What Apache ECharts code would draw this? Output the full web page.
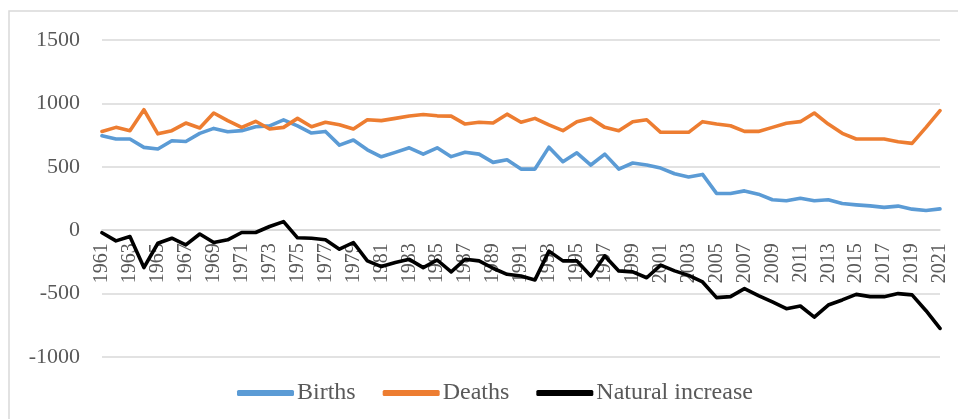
<!DOCTYPE html>
<html>
<head>
<meta charset="utf-8">
<script src="https://cdn.jsdelivr.net/npm/echarts@6/dist/echarts.min.js"></script>
<style>
  html, body { margin: 0; padding: 0; background: #ffffff; }
  #chart { width: 958px; height: 419px; }
</style>
</head>
<body>
<div id="chart"></div>
<script>
const years = [];
for (let y = 1961; y <= 2021; y++) years.push(String(y));

const births = [745, 719, 719, 653, 640, 706, 700, 764, 803, 777, 785, 816, 823, 870, 823, 766, 779, 671, 711, 634,
  579, 614, 650, 600, 650, 580, 615, 600, 535, 556, 482, 482, 655, 540, 610, 514, 600, 482, 530, 514,
  490, 445, 420, 440, 290, 290, 310, 284, 240, 232, 252, 232, 240, 210, 200, 192, 180, 190, 166, 155, 168];

const deaths = [779, 811, 785, 950, 760, 785, 845, 806, 924, 864, 811, 859, 798, 811, 882, 816, 851, 832, 798, 871,
  864, 882, 900, 912, 902, 900, 837, 851, 845, 915, 851, 882, 830, 785, 856, 882, 811, 785, 856, 871,
  772, 772, 772, 856, 837, 824, 779, 779, 811, 843, 856, 924, 837, 764, 719, 719, 719, 698, 685, 811, 943];

const natural = [-20, -84, -50, -295, -103, -63, -116, -30, -97, -76, -18, -18, 29, 68, -60, -63, -75, -150, -97, -242,
  -287, -255, -230, -295, -235, -329, -229, -242, -300, -348, -361, -392, -165, -242, -242, -361, -203, -321, -329, -375,
  -275, -321, -356, -408, -532, -524, -461, -516, -566, -619, -598, -685, -590, -550, -506, -524, -524, -500, -510, -635, -775];

const yTicks = { min: -1000, max: 1500, interval: 500 };
const seriesNames = ['Births', 'Deaths', 'Natural increase'];
const colors = ['#5B9BD5', '#ED7D31', '#000000'];

const FONT = '"Liberation Serif", "Times New Roman", serif';
const TXT = '#595959';

const GRID = { left: 102, right: 18, top: 40, bottom: 62 };
const plotH = 419 - GRID.top - GRID.bottom;
const zeroOffset = -plotH * (0 - yTicks.min) / (yTicks.max - yTicks.min);

const chart = echarts.init(document.getElementById('chart'), null, { renderer: 'canvas' });

function lineSeries(name, data, color) {
  return {
    name: name,
    type: 'line',
    data: data,
    symbol: 'none',
    smooth: false,
    color: color,
    z: 3,
    lineStyle: { color: color, width: 3.6, cap: 'round', join: 'round' },
    emphasis: { disabled: true },
    animation: false
  };
}

chart.setOption({
  animation: false,
  backgroundColor: '#ffffff',
  graphic: [{
    type: 'rect',
    shape: { x: 9, y: 11, width: 960, height: 420 },
    style: { fill: 'none', stroke: '#d9d9d9', lineWidth: 1.5 },
    silent: true,
    z: 0
  }],
  grid: GRID,
  legend: {
    data: seriesNames,
    bottom: 9,
    left: 232,
    icon: 'roundRect',
    itemWidth: 57,
    itemHeight: 6,
    itemGap: 27,
    textStyle: { fontFamily: FONT, fontSize: 24, color: TXT, padding: [0, 0, 0, -2] }
  },
  xAxis: {
    type: 'category',
    data: years,
    boundaryGap: false,
    position: 'bottom',
    offset: zeroOffset,
    axisLine: { show: true, onZero: false, lineStyle: { color: '#d9d9d9', width: 1.5 } },
    axisTick: { show: false },
    axisLabel: {
      interval: 1,
      rotate: 90,
      margin: 13,
      fontFamily: FONT,
      fontSize: 20,
      color: TXT,
      formatter: function (v) { return v; }
    },
    splitLine: { show: false },
    z: 1
  },
  yAxis: {
    type: 'value',
    min: yTicks.min,
    max: yTicks.max,
    interval: yTicks.interval,
    axisLine: { show: false },
    axisTick: { show: false },
    axisLabel: { margin: 22, fontFamily: FONT, fontSize: 22, color: TXT, formatter: function (v) { return String(v); } },
    splitLine: { lineStyle: { color: '#d9d9d9', width: 1.5 } }
  },
  series: [
    lineSeries(seriesNames[0], births, colors[0]),
    lineSeries(seriesNames[1], deaths, colors[1]),
    lineSeries(seriesNames[2], natural, colors[2])
  ]
});
</script>
</body>
</html>
